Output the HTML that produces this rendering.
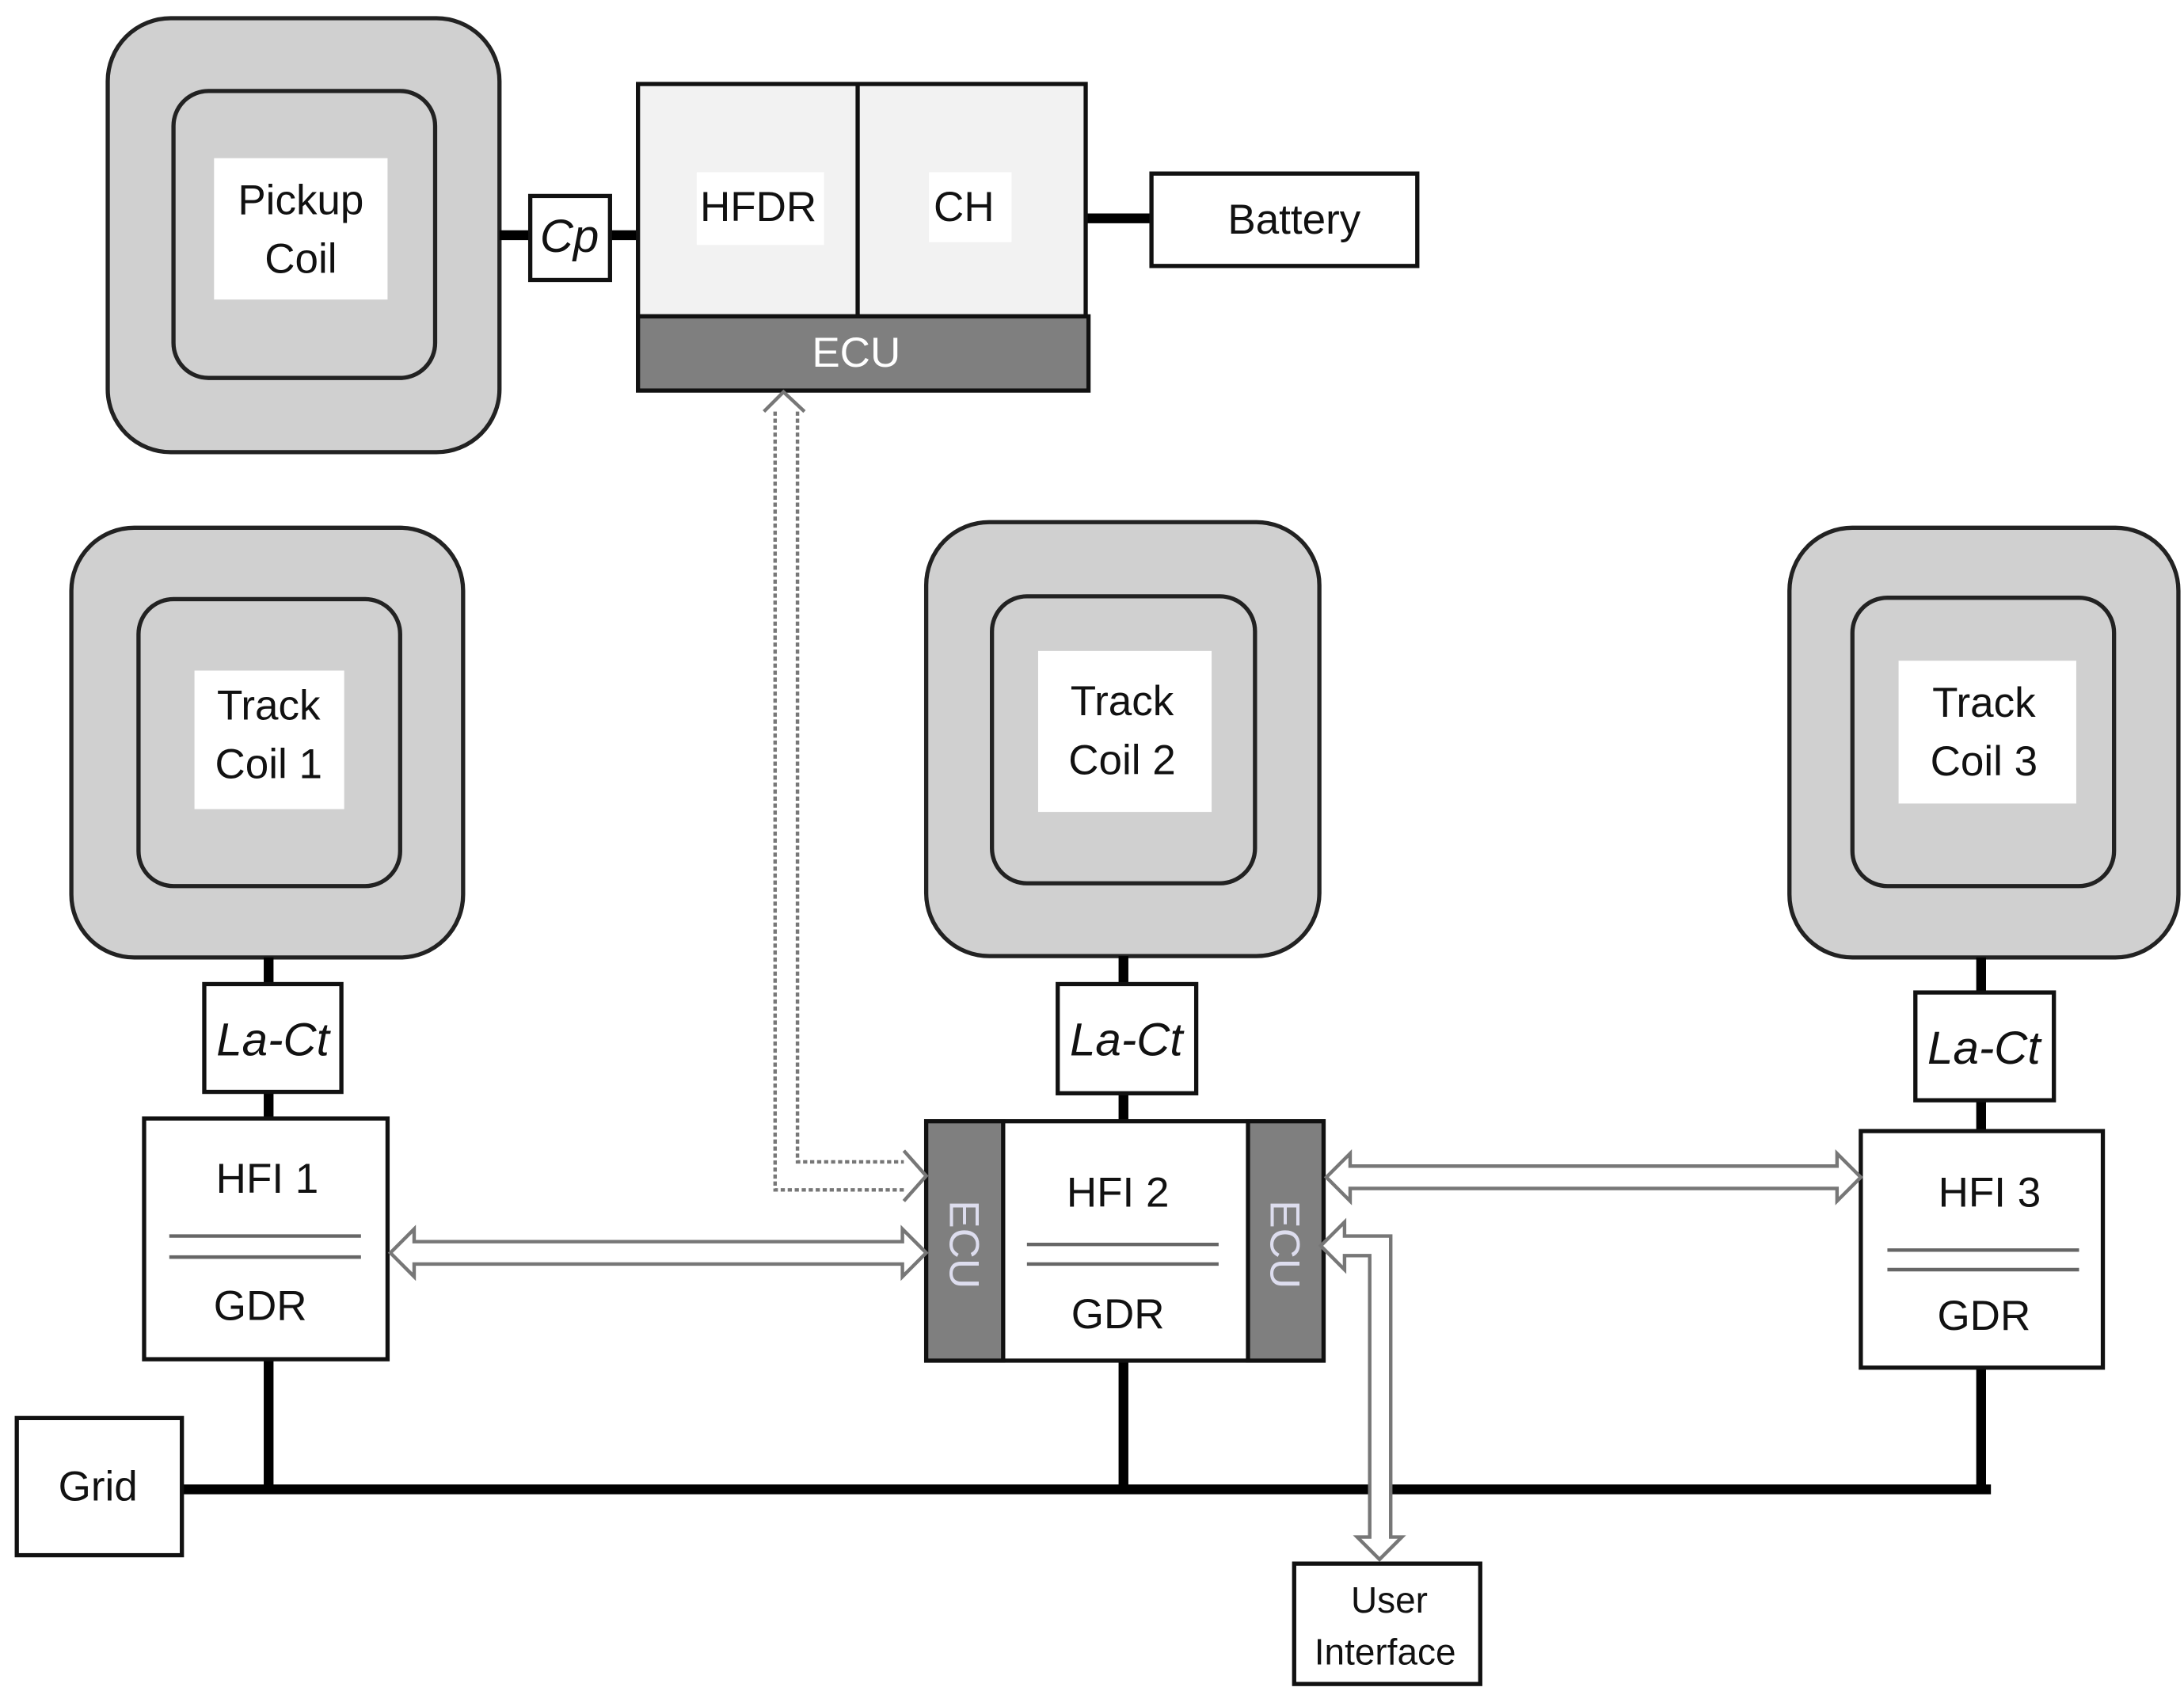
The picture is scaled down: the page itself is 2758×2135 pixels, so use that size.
<!DOCTYPE html>
<html><head><meta charset="utf-8"><style>
html,body{margin:0;padding:0;background:#fff;}
svg{display:block;}
text{font-family:"Liberation Sans",sans-serif;fill:#111;}
</style></head><body>
<svg width="2758" height="2135" viewBox="0 0 1561 1208" preserveAspectRatio="none" xmlns="http://www.w3.org/2000/svg">
<rect width="1561" height="1208" fill="#fff"/>
<g stroke="#222" stroke-width="3" fill="#d0d0d0">
<rect x="77" y="13" width="280" height="310" rx="45"/>
<rect x="124" y="65" width="187" height="205" rx="25"/>
<rect x="51" y="377" width="280" height="307" rx="45"/>
<rect x="99" y="428" width="187" height="205" rx="25"/>
<rect x="662" y="373" width="281" height="310" rx="45"/>
<rect x="709" y="426" width="188" height="205" rx="25"/>
<rect x="1279" y="377" width="278" height="307" rx="45"/>
<rect x="1324" y="427" width="187" height="206" rx="25"/>
</g>
<g fill="#fff">
<rect x="153" y="113" width="124" height="101"/>
<rect x="139" y="479" width="107" height="99"/>
<rect x="742" y="465" width="124" height="115"/>
<rect x="1357" y="472" width="127" height="102"/>
</g>
<g font-size="30" text-anchor="middle">
<text x="215" y="153">Pickup</text><text x="215" y="195">Coil</text>
<text x="192" y="514">Track</text><text x="192" y="556">Coil 1</text>
<text x="802" y="511">Track</text><text x="802" y="553">Coil 2</text>
<text x="1418" y="512">Track</text><text x="1418" y="554">Coil 3</text>
</g>
<!-- thick lines -->
<g stroke="#000" stroke-width="7" fill="none">
<line x1="357" y1="168" x2="379" y2="168"/>
<line x1="436" y1="168" x2="456" y2="168"/>
<line x1="776" y1="156" x2="823" y2="156"/>
<line x1="192" y1="684" x2="192" y2="1064"/>
<line x1="803" y1="683" x2="803" y2="1064"/>
<line x1="1416" y1="684" x2="1416" y2="1064"/>
<line x1="130" y1="1064" x2="1423" y2="1064"/>
</g>
<g stroke="#111" stroke-width="3">
<rect x="379" y="140" width="57" height="60" fill="#fff"/>
<rect x="456" y="60" width="320" height="166" fill="#f2f2f2"/>
<line x1="613" y1="60" x2="613" y2="226"/>
<rect x="456" y="226" width="322" height="53" fill="#7f7f7f"/>
<rect x="823" y="124" width="190" height="66" fill="#fff"/>
<rect x="146" y="703" width="98" height="77" fill="#fff"/>
<rect x="103" y="799" width="174" height="172" fill="#fff"/>
<rect x="756" y="703" width="99" height="78" fill="#fff"/>
<rect x="662" y="801" width="284" height="171" fill="#fff"/>
<rect x="662" y="801" width="55" height="171" fill="#7f7f7f"/>
<rect x="892" y="801" width="54" height="171" fill="#7f7f7f"/>
<rect x="1369" y="709" width="99" height="77" fill="#fff"/>
<rect x="1330" y="808" width="173" height="169" fill="#fff"/>
<rect x="12" y="1013" width="118" height="98" fill="#fff"/>
<rect x="925" y="1117" width="133" height="86" fill="#fff"/>
</g>
<rect x="498" y="123" width="91" height="52" fill="#fff"/>
<rect x="664" y="123" width="59" height="50" fill="#fff"/>
<g stroke="#666" stroke-width="2.5">
<line x1="121" y1="883" x2="258" y2="883"/><line x1="121" y1="898" x2="258" y2="898"/>
<line x1="734" y1="889" x2="871" y2="889"/><line x1="734" y1="903" x2="871" y2="903"/>
<line x1="1349" y1="893" x2="1486" y2="893"/><line x1="1349" y1="907" x2="1486" y2="907"/>
</g>
<g font-size="30" text-anchor="middle">
<text x="407" y="180" font-style="italic" font-size="33">Cp</text>
<text x="542" y="158">HFDR</text>
<text x="689" y="158">CH</text>
<text x="612" y="262" fill="#fff" style="fill:#fff">ECU</text>
<text x="925" y="167">Battery</text>
<text x="195" y="754" font-style="italic" font-size="33">La-Ct</text>
<text x="805" y="754" font-style="italic" font-size="33">La-Ct</text>
<text x="1418" y="760" font-style="italic" font-size="33">La-Ct</text>
<text x="191" y="852">HFI 1</text><text x="186" y="943">GDR</text>
<text x="799" y="862">HFI 2</text><text x="799" y="949">GDR</text>
<text x="1422" y="862">HFI 3</text><text x="1418" y="950">GDR</text>
<text x="70" y="1072">Grid</text>
<text x="993" y="1152" font-size="26">User</text>
<text x="990" y="1189" font-size="26">Interface</text>
<text transform="translate(679,889) rotate(90)" style="fill:#dde" font-size="30" text-anchor="middle">ECU</text>
<text transform="translate(908,889) rotate(90)" style="fill:#dde" font-size="30" text-anchor="middle">ECU</text>
</g>
<!-- hollow arrows -->
<g fill="#fff" stroke="#777" stroke-width="2.5" stroke-linejoin="miter">
<polygon points="279,895 296,878 296,887 645,887 645,878 662,895 645,912 645,903 296,903 296,912"/>
<polygon points="948,841 965,824 965,833 1313,833 1313,824 1330,841 1313,858 1313,849 965,849 965,858"/>
<polygon points="944,890 961,873 961,883 994,883 994,1098 1002,1098 986,1114 970,1098 979,1098 979,897 961,897 961,907"/>
</g>
<g fill="none" stroke="#777" stroke-width="2.5" stroke-dasharray="3,2">
<polyline points="554,294 554,850 646,850"/>
<polyline points="570,294 570,830 646,830"/>
</g>
<g fill="none" stroke="#777" stroke-width="2.5">
<polyline points="546,294 560,280 575,294"/>
<polyline points="646,822 662,840 646,858"/>
</g>
</svg>
</body></html>
